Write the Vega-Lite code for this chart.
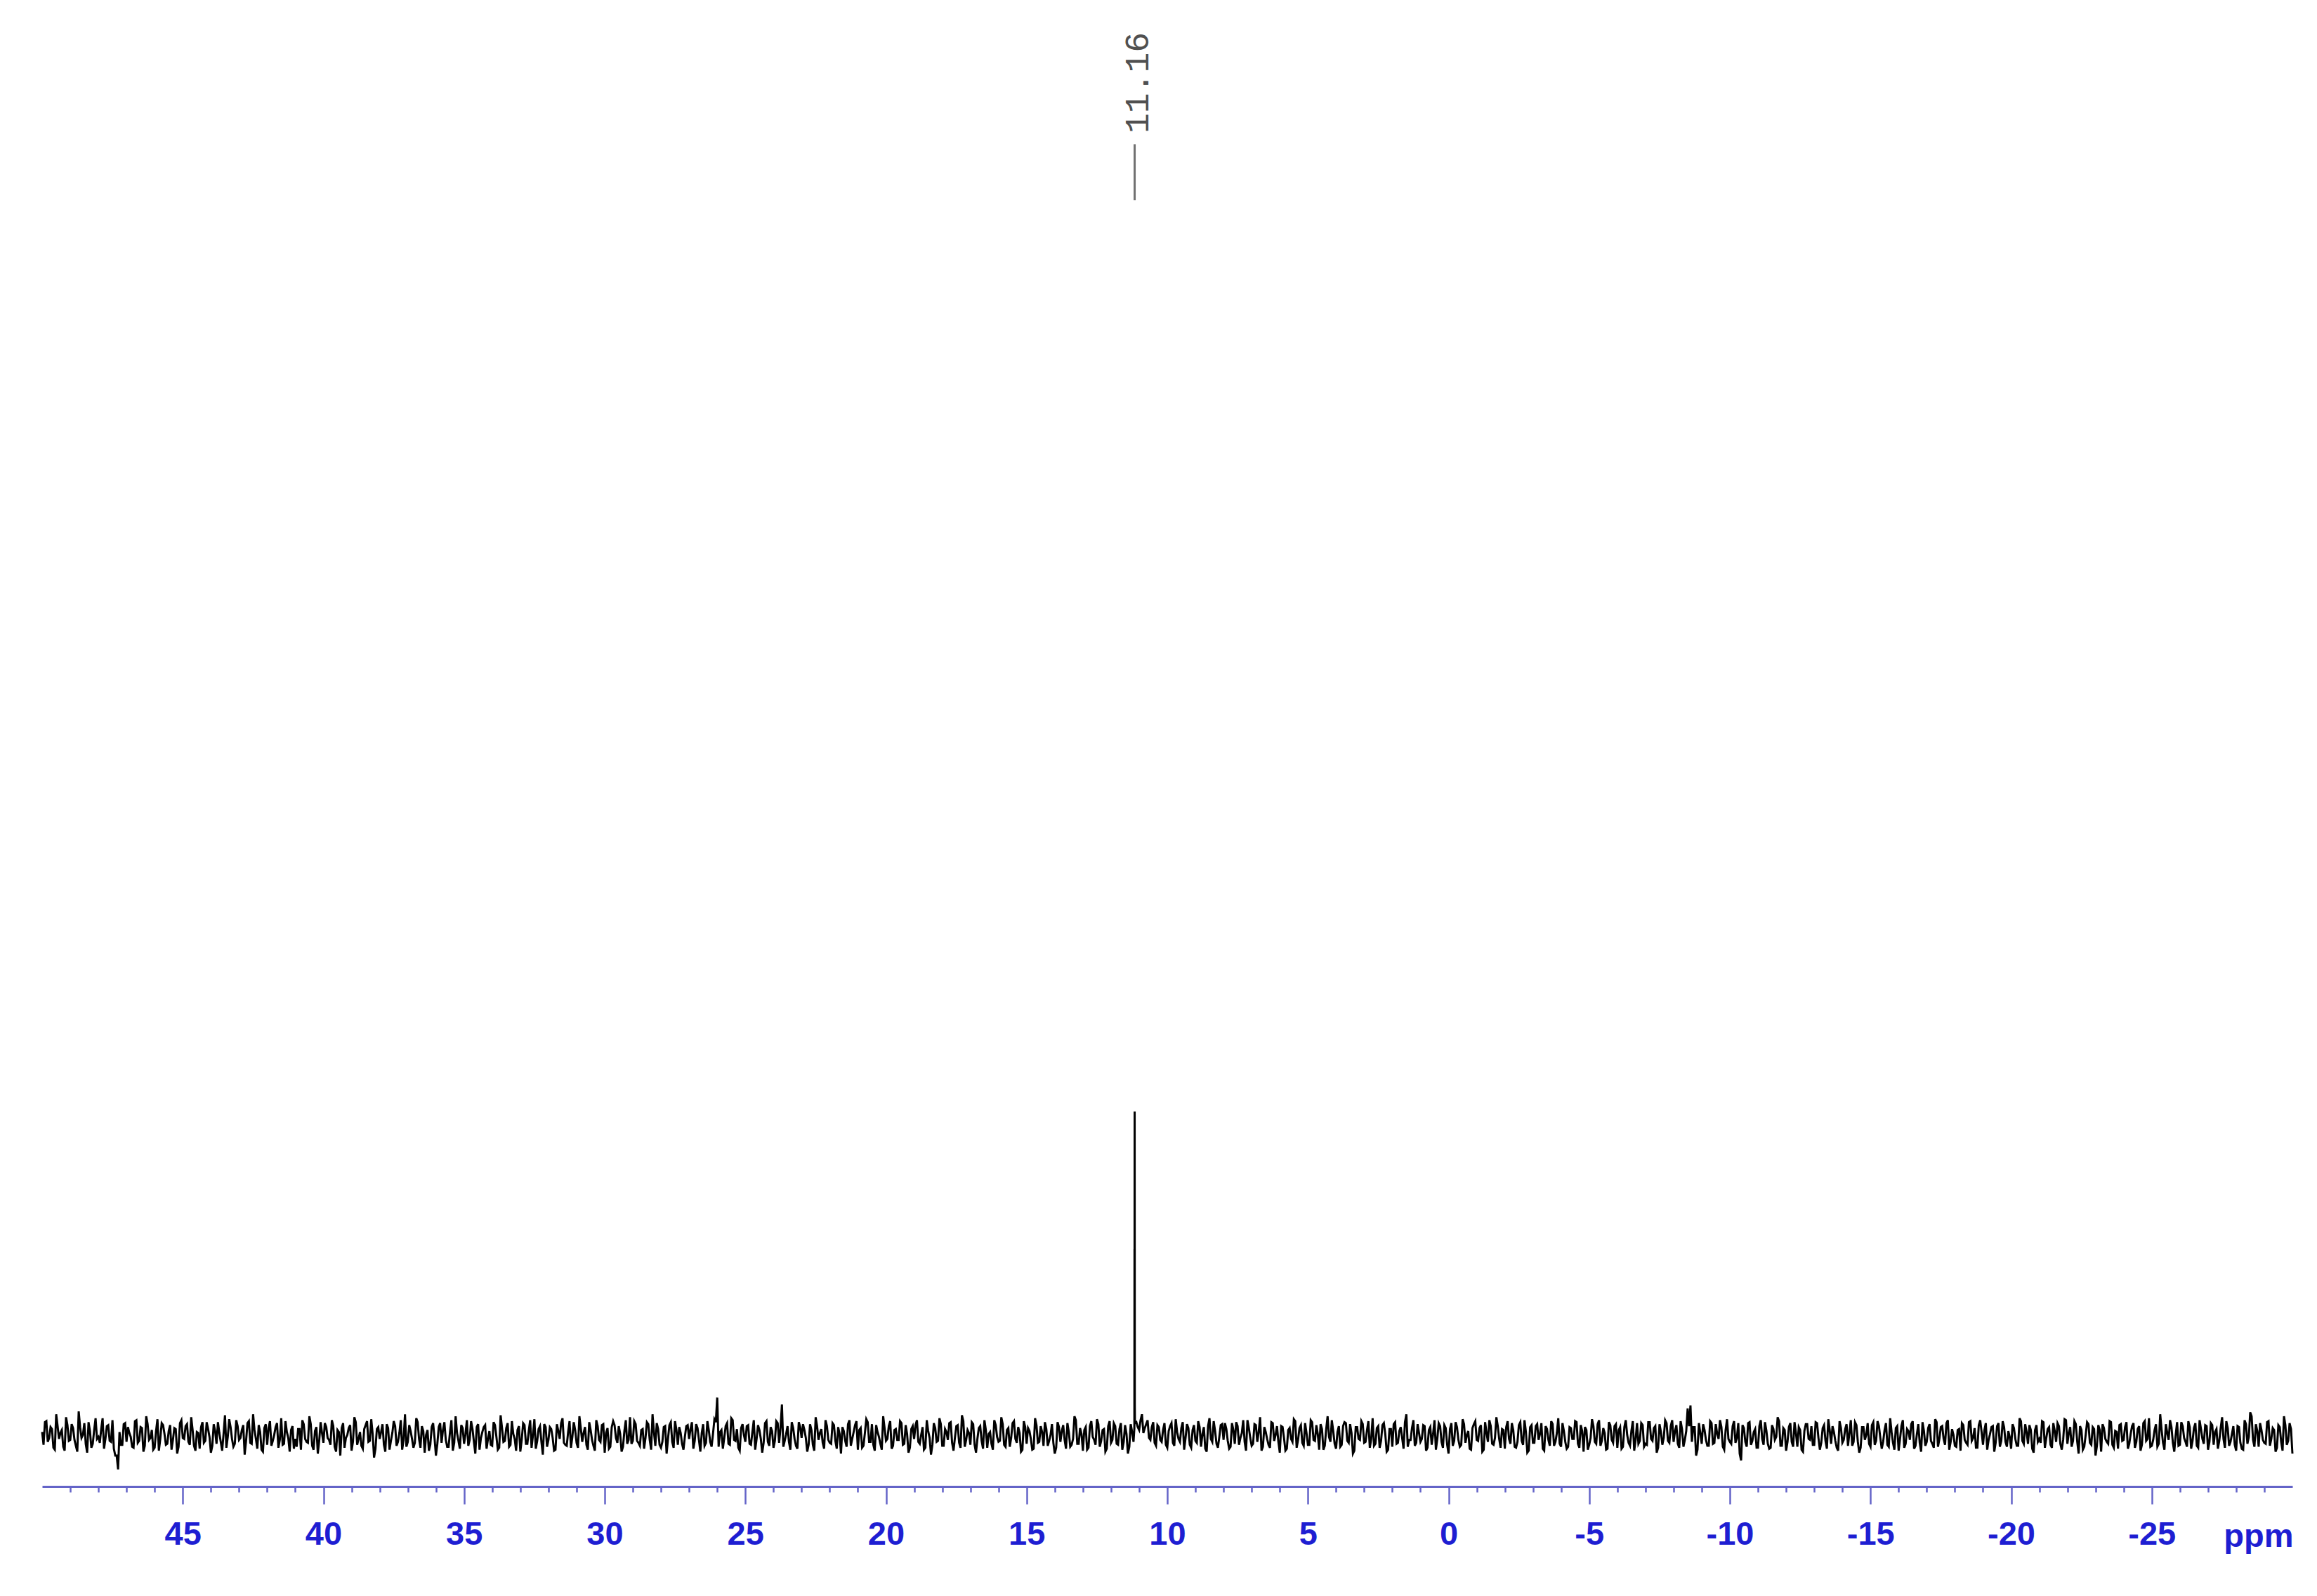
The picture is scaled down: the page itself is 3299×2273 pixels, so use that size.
{
"$schema": "https://vega.github.io/schema/vega-lite/v6.json",
"width": 3204,
"height": 2117,
"autosize": {"type": "none"},
"padding": {"left": 60, "top": 0, "right": 35, "bottom": 156},
"background": "white",
"config": {"view": {"stroke": null}},
"datasets": {
"peaks": [{"p": 11.16, "label": "11.16"}],
"spectrum": [
{"p":50,"i":4},
{"p":49.9,"i":14},{"p":49.8,"i":-6},{"p":49.7,"i":9},{"p":49.6,"i":-12},{"p":49.5,"i":22},{"p":49.4,"i":-3},{"p":49.3,"i":6},{"p":49.2,"i":-15},{"p":49.1,"i":11},{"p":49.0,"i":-4},
{"p":48.9,"i":8},{"p":48.8,"i":-10},{"p":48.7,"i":25},{"p":48.6,"i":-2},{"p":48.5,"i":13},{"p":48.4,"i":-17},{"p":48.3,"i":5},{"p":48.2,"i":-8},{"p":48.1,"i":18},{"p":48.0,"i":-1},
{"p":47.9,"i":7},{"p":47.8,"i":-13},{"p":47.7,"i":10},{"p":47.6,"i":-5},{"p":47.5,"i":16},{"p":47.4,"i":-20},{"p":47.3,"i":-34},{"p":47.2,"i":-9},{"p":47.1,"i":12},{"p":47.0,"i":-6},
{"p":46.9,"i":3},{"p":46.8,"i":-11},{"p":46.7,"i":15},{"p":46.6,"i":-7},{"p":46.5,"i":9},{"p":46.4,"i":-16},{"p":46.3,"i":20},{"p":46.2,"i":-4},{"p":46.1,"i":6},{"p":46.0,"i":-12},
{"p":45.9,"i":17},{"p":45.8,"i":-3},{"p":45.7,"i":11},{"p":45.6,"i":-9},{"p":45.5,"i":5},{"p":45.4,"i":-14},{"p":45.3,"i":8},{"p":45.2,"i":-18},{"p":45.1,"i":13},{"p":45.0,"i":-2},
{"p":44.9,"i":10},{"p":44.8,"i":-6},{"p":44.7,"i":19},{"p":44.6,"i":-10},{"p":44.5,"i":4},{"p":44.4,"i":-13},{"p":44.3,"i":14},{"p":44.2,"i":-5},{"p":44.1,"i":7},{"p":44.0,"i":-17},
{"p":43.9,"i":12},{"p":43.8,"i":-8},{"p":43.7,"i":3},{"p":43.6,"i":-15},{"p":43.5,"i":21},{"p":43.4,"i":-1},{"p":43.3,"i":9},{"p":43.2,"i":-11},{"p":43.1,"i":16},{"p":43.0,"i":-4},
{"p":42.9,"i":6},{"p":42.8,"i":-19},{"p":42.7,"i":13},{"p":42.6,"i":-7},{"p":42.5,"i":22},{"p":42.4,"i":-3},{"p":42.3,"i":11},{"p":42.2,"i":-14},{"p":42.1,"i":8},{"p":42.0,"i":-9},
{"p":41.9,"i":15},{"p":41.8,"i":-5},{"p":41.7,"i":9},{"p":41.6,"i":-12},{"p":41.5,"i":18},{"p":41.4,"i":-8},{"p":41.3,"i":4},{"p":41.2,"i":-16},{"p":41.1,"i":10},{"p":41.0,"i":-3},
{"p":40.9,"i":7},{"p":40.8,"i":-14},{"p":40.7,"i":12},{"p":40.6,"i":-6},{"p":40.5,"i":20},{"p":40.4,"i":-10},{"p":40.3,"i":5},{"p":40.2,"i":-18},{"p":40.1,"i":14},{"p":40.0,"i":-7},
{"p":39.9,"i":9},{"p":39.8,"i":-4},{"p":39.7,"i":16},{"p":39.6,"i":-11},{"p":39.5,"i":6},{"p":39.4,"i":-20},{"p":39.3,"i":13},{"p":39.2,"i":-2},{"p":39.1,"i":8},{"p":39.0,"i":-15},
{"p":38.9,"i":19},{"p":38.8,"i":-9},{"p":38.7,"i":4},{"p":38.6,"i":-13},{"p":38.5,"i":11},{"p":38.4,"i":-6},{"p":38.3,"i":17},{"p":38.2,"i":-22},{"p":38.1,"i":7},{"p":38.0,"i":-3},
{"p":37.9,"i":12},{"p":37.8,"i":-16},{"p":37.7,"i":8},{"p":37.6,"i":-5},{"p":37.5,"i":15},{"p":37.4,"i":-10},{"p":37.3,"i":3},{"p":37.2,"i":-14},{"p":37.1,"i":22},{"p":37.0,"i":-6},
{"p":36.9,"i":5},{"p":36.8,"i":-12},{"p":36.7,"i":18},{"p":36.6,"i":-3},{"p":36.5,"i":10},{"p":36.4,"i":-17},{"p":36.3,"i":6},{"p":36.2,"i":-9},{"p":36.1,"i":13},{"p":36.0,"i":-20},
{"p":35.9,"i":9},{"p":35.8,"i":-7},{"p":35.7,"i":14},{"p":35.6,"i":-11},{"p":35.5,"i":4},{"p":35.4,"i":-15},{"p":35.3,"i":20},{"p":35.2,"i":-5},{"p":35.1,"i":11},{"p":35.0,"i":-8},
{"p":34.9,"i":16},{"p":34.8,"i":-4},{"p":34.7,"i":7},{"p":34.6,"i":-18},{"p":34.5,"i":12},{"p":34.4,"i":-2},{"p":34.3,"i":9},{"p":34.2,"i":-13},{"p":34.1,"i":5},{"p":34.0,"i":-10},
{"p":33.9,"i":11},{"p":33.8,"i":-14},{"p":33.7,"i":21},{"p":33.6,"i":-6},{"p":33.5,"i":8},{"p":33.4,"i":-11},{"p":33.3,"i":15},{"p":33.2,"i":-3},{"p":33.1,"i":6},{"p":33.0,"i":-16},
{"p":32.9,"i":13},{"p":32.8,"i":-8},{"p":32.7,"i":5},{"p":32.6,"i":-12},{"p":32.5,"i":17},{"p":32.4,"i":-5},{"p":32.3,"i":10},{"p":32.2,"i":-19},{"p":32.1,"i":9},{"p":32.0,"i":-4},
{"p":31.9,"i":7},{"p":31.8,"i":-15},{"p":31.7,"i":12},{"p":31.6,"i":-3},{"p":31.5,"i":18},{"p":31.4,"i":-9},{"p":31.3,"i":4},{"p":31.2,"i":-12},{"p":31.1,"i":14},{"p":31.0,"i":-7},
{"p":30.9,"i":20},{"p":30.8,"i":-6},{"p":30.7,"i":9},{"p":30.6,"i":-14},{"p":30.5,"i":6},{"p":30.4,"i":-10},{"p":30.3,"i":16},{"p":30.2,"i":-4},{"p":30.1,"i":11},{"p":30.0,"i":-17},
{"p":29.9,"i":8},{"p":29.8,"i":-11},{"p":29.7,"i":15},{"p":29.6,"i":-2},{"p":29.5,"i":10},{"p":29.4,"i":-16},{"p":29.3,"i":5},{"p":29.2,"i":-8},{"p":29.1,"i":19},{"p":29.0,"i":-5},
{"p":28.9,"i":12},{"p":28.8,"i":-7},{"p":28.7,"i":6},{"p":28.6,"i":-13},{"p":28.5,"i":14},{"p":28.4,"i":-4},{"p":28.3,"i":22},{"p":28.2,"i":-10},{"p":28.1,"i":7},{"p":28.0,"i":-12},
{"p":27.9,"i":9},{"p":27.8,"i":-18},{"p":27.7,"i":11},{"p":27.6,"i":-6},{"p":27.5,"i":15},{"p":27.4,"i":-9},{"p":27.3,"i":3},{"p":27.2,"i":-14},{"p":27.1,"i":10},{"p":27.0,"i":-3},
{"p":26.9,"i":14},{"p":26.8,"i":-5},{"p":26.7,"i":8},{"p":26.6,"i":-16},{"p":26.5,"i":12},{"p":26.4,"i":-7},{"p":26.3,"i":6},{"p":26.2,"i":-11},{"p":26.1,"i":17},{"p":26.0,"i":39},
{"p":25.9,"i":4},{"p":25.8,"i":-13},{"p":25.7,"i":10},{"p":25.6,"i":-8},{"p":25.5,"i":18},{"p":25.4,"i":-4},{"p":25.3,"i":7},{"p":25.2,"i":-15},{"p":25.1,"i":12},{"p":25.0,"i":-6},
{"p":24.9,"i":11},{"p":24.8,"i":-9},{"p":24.7,"i":16},{"p":24.6,"i":-3},{"p":24.5,"i":6},{"p":24.4,"i":-17},{"p":24.3,"i":13},{"p":24.2,"i":-6},{"p":24.1,"i":9},{"p":24.0,"i":-12},
{"p":23.9,"i":15},{"p":23.8,"i":-7},{"p":23.7,"i":32},{"p":23.6,"i":-5},{"p":23.5,"i":10},{"p":23.4,"i":-14},{"p":23.3,"i":8},{"p":23.2,"i":-10},{"p":23.1,"i":14},{"p":23.0,"i":-2},
{"p":22.9,"i":6},{"p":22.8,"i":-16},{"p":22.7,"i":12},{"p":22.6,"i":-9},{"p":22.5,"i":19},{"p":22.4,"i":-4},{"p":22.3,"i":7},{"p":22.2,"i":-13},{"p":22.1,"i":10},{"p":22.0,"i":-7},
{"p":21.9,"i":13},{"p":21.8,"i":-5},{"p":21.7,"i":9},{"p":21.6,"i":-18},{"p":21.5,"i":5},{"p":21.4,"i":-11},{"p":21.3,"i":16},{"p":21.2,"i":-3},{"p":21.1,"i":11},{"p":21.0,"i":-14},
{"p":20.9,"i":8},{"p":20.8,"i":-10},{"p":20.7,"i":17},{"p":20.6,"i":-6},{"p":20.5,"i":12},{"p":20.4,"i":-15},{"p":20.3,"i":4},{"p":20.2,"i":-8},{"p":20.1,"i":20},{"p":20.0,"i":-5},
{"p":19.9,"i":10},{"p":19.8,"i":-13},{"p":19.7,"i":6},{"p":19.6,"i":-4},{"p":19.5,"i":15},{"p":19.4,"i":-9},{"p":19.3,"i":11},{"p":19.2,"i":-17},{"p":19.1,"i":7},{"p":19.0,"i":-3},
{"p":18.9,"i":16},{"p":18.8,"i":-8},{"p":18.7,"i":9},{"p":18.6,"i":-12},{"p":18.5,"i":5},{"p":18.4,"i":-19},{"p":18.3,"i":13},{"p":18.2,"i":-6},{"p":18.1,"i":18},{"p":18.0,"i":-10},
{"p":17.9,"i":7},{"p":17.8,"i":-4},{"p":17.7,"i":14},{"p":17.6,"i":-15},{"p":17.5,"i":10},{"p":17.4,"i":-7},{"p":17.3,"i":21},{"p":17.2,"i":-11},{"p":17.1,"i":6},{"p":17.0,"i":-9},
{"p":16.9,"i":12},{"p":16.8,"i":-17},{"p":16.7,"i":8},{"p":16.6,"i":-5},{"p":16.5,"i":16},{"p":16.4,"i":-12},{"p":16.3,"i":4},{"p":16.2,"i":-14},{"p":16.1,"i":11},{"p":16.0,"i":-6},
{"p":15.9,"i":19},{"p":15.8,"i":-9},{"p":15.7,"i":6},{"p":15.6,"i":-11},{"p":15.5,"i":13},{"p":15.4,"i":-3},{"p":15.3,"i":9},{"p":15.2,"i":-16},{"p":15.1,"i":15},{"p":15.0,"i":-8},
{"p":14.9,"i":5},{"p":14.8,"i":-14},{"p":14.7,"i":18},{"p":14.6,"i":-7},{"p":14.5,"i":10},{"p":14.4,"i":-10},{"p":14.3,"i":7},{"p":14.2,"i":-5},{"p":14.1,"i":12},{"p":14.0,"i":-18},
{"p":13.9,"i":14},{"p":13.8,"i":-6},{"p":13.7,"i":11},{"p":13.6,"i":-13},{"p":13.5,"i":4},{"p":13.4,"i":-9},{"p":13.3,"i":20},{"p":13.2,"i":-8},{"p":13.1,"i":8},{"p":13.0,"i":-15},
{"p":12.9,"i":9},{"p":12.8,"i":-12},{"p":12.7,"i":15},{"p":12.6,"i":-4},{"p":12.5,"i":17},{"p":12.4,"i":-11},{"p":12.3,"i":6},{"p":12.2,"i":-16},{"p":12.1,"i":10},{"p":12.0,"i":-7},
{"p":11.9,"i":13},{"p":11.8,"i":-8},{"p":11.7,"i":7},{"p":11.6,"i":-14},{"p":11.5,"i":11},{"p":11.4,"i":-18},{"p":11.3,"i":12},{"p":11.2,"i":-6},
{"p":11.17,"i":8},{"p":11.165,"i":190},{"p":11.163,"i":165},{"p":11.16,"i":330},{"p":11.157,"i":187},{"p":11.155,"i":32},{"p":11.15,"i":13},
{"p":11.1,"i":14},{"p":11.0,"i":6},
{"p":10.9,"i":22},{"p":10.8,"i":8},{"p":10.7,"i":16},{"p":10.6,"i":-4},{"p":10.5,"i":14},{"p":10.4,"i":-10},{"p":10.3,"i":9},{"p":10.2,"i":-6},{"p":10.1,"i":13},{"p":10.0,"i":-12},
{"p":9.9,"i":10},{"p":9.8,"i":-7},{"p":9.7,"i":17},{"p":9.6,"i":-3},{"p":9.5,"i":8},{"p":9.4,"i":-14},{"p":9.3,"i":12},{"p":9.2,"i":-9},{"p":9.1,"i":6},{"p":9.0,"i":-5},
{"p":8.9,"i":15},{"p":8.8,"i":-11},{"p":8.7,"i":9},{"p":8.6,"i":-16},{"p":8.5,"i":18},{"p":8.4,"i":-6},{"p":8.3,"i":5},{"p":8.2,"i":-12},{"p":8.1,"i":11},{"p":8.0,"i":-4},
{"p":7.9,"i":7},{"p":7.8,"i":-13},{"p":7.7,"i":13},{"p":7.6,"i":-8},{"p":7.5,"i":10},{"p":7.4,"i":-2},{"p":7.3,"i":16},{"p":7.2,"i":-15},{"p":7.1,"i":8},{"p":7.0,"i":-10},
{"p":6.9,"i":12},{"p":6.8,"i":-6},{"p":6.7,"i":19},{"p":6.6,"i":-11},{"p":6.5,"i":4},{"p":6.4,"i":-9},{"p":6.3,"i":14},{"p":6.2,"i":-5},{"p":6.1,"i":10},{"p":6.0,"i":-17},
{"p":5.9,"i":9},{"p":5.8,"i":-15},{"p":5.7,"i":6},{"p":5.6,"i":-3},{"p":5.5,"i":17},{"p":5.4,"i":-12},{"p":5.3,"i":8},{"p":5.2,"i":-7},{"p":5.1,"i":13},{"p":5.0,"i":-9},
{"p":4.9,"i":16},{"p":4.8,"i":-4},{"p":4.7,"i":11},{"p":4.6,"i":-14},{"p":4.5,"i":7},{"p":4.4,"i":-10},{"p":4.3,"i":20},{"p":4.2,"i":-6},{"p":4.1,"i":5},{"p":4.0,"i":-13},
{"p":3.9,"i":10},{"p":3.8,"i":-9},{"p":3.7,"i":14},{"p":3.6,"i":-5},{"p":3.5,"i":12},{"p":3.4,"i":-18},{"p":3.3,"i":9},{"p":3.2,"i":-3},{"p":3.1,"i":15},{"p":3.0,"i":-7},
{"p":2.9,"i":6},{"p":2.8,"i":-12},{"p":2.7,"i":18},{"p":2.6,"i":-8},{"p":2.5,"i":10},{"p":2.4,"i":-5},{"p":2.3,"i":13},{"p":2.2,"i":-16},{"p":2.1,"i":7},{"p":2.0,"i":-11},
{"p":1.9,"i":14},{"p":1.8,"i":-7},{"p":1.7,"i":9},{"p":1.6,"i":-13},{"p":1.5,"i":22},{"p":1.4,"i":-4},{"p":1.3,"i":8},{"p":1.2,"i":-10},{"p":1.1,"i":12},{"p":1.0,"i":-6},
{"p":0.9,"i":11},{"p":0.8,"i":-15},{"p":0.7,"i":6},{"p":0.6,"i":-9},{"p":0.5,"i":16},{"p":0.4,"i":-3},{"p":0.3,"i":10},{"p":0.2,"i":-12},{"p":0.1,"i":8},{"p":0.0,"i":-18},
{"p":-0.1,"i":13},{"p":-0.2,"i":-5},{"p":-0.3,"i":9},{"p":-0.4,"i":-11},{"p":-0.5,"i":17},{"p":-0.6,"i":-7},{"p":-0.7,"i":5},{"p":-0.8,"i":-14},{"p":-0.9,"i":12},{"p":-1.0,"i":-4},
{"p":-1.1,"i":8},{"p":-1.2,"i":-16},{"p":-1.3,"i":14},{"p":-1.4,"i":-6},{"p":-1.5,"i":10},{"p":-1.6,"i":-9},{"p":-1.7,"i":19},{"p":-1.8,"i":-3},{"p":-1.9,"i":7},{"p":-2.0,"i":-13},
{"p":-2.1,"i":15},{"p":-2.2,"i":-8},{"p":-2.3,"i":6},{"p":-2.4,"i":-12},{"p":-2.5,"i":11},{"p":-2.6,"i":-5},{"p":-2.7,"i":16},{"p":-2.8,"i":-17},{"p":-2.9,"i":9},{"p":-3.0,"i":-7},
{"p":-3.1,"i":10},{"p":-3.2,"i":-4},{"p":-3.3,"i":13},{"p":-3.4,"i":-15},{"p":-3.5,"i":7},{"p":-3.6,"i":-10},{"p":-3.7,"i":12},{"p":-3.8,"i":-6},{"p":-3.9,"i":18},{"p":-4.0,"i":-11},
{"p":-4.1,"i":5},{"p":-4.2,"i":-13},{"p":-4.3,"i":9},{"p":-4.4,"i":-3},{"p":-4.5,"i":15},{"p":-4.6,"i":-8},{"p":-4.7,"i":11},{"p":-4.8,"i":-16},{"p":-4.9,"i":6},{"p":-5.0,"i":-9},
{"p":-5.1,"i":17},{"p":-5.2,"i":-6},{"p":-5.3,"i":12},{"p":-5.4,"i":-10},{"p":-5.5,"i":8},{"p":-5.6,"i":-14},{"p":-5.7,"i":14},{"p":-5.8,"i":-4},{"p":-5.9,"i":10},{"p":-6.0,"i":-12},
{"p":-6.1,"i":9},{"p":-6.2,"i":-11},{"p":-6.3,"i":16},{"p":-6.4,"i":-7},{"p":-6.5,"i":5},{"p":-6.6,"i":-15},{"p":-6.7,"i":13},{"p":-6.8,"i":-5},{"p":-6.9,"i":11},{"p":-7.0,"i":-8},
{"p":-7.1,"i":14},{"p":-7.2,"i":-3},{"p":-7.3,"i":8},{"p":-7.4,"i":-17},{"p":-7.5,"i":12},{"p":-7.6,"i":-9},{"p":-7.7,"i":16},{"p":-7.8,"i":-5},{"p":-7.9,"i":10},{"p":-8.0,"i":-6},
{"p":-8.1,"i":11},{"p":-8.2,"i":-12},{"p":-8.3,"i":7},{"p":-8.4,"i":-4},{"p":-8.5,"i":28},{"p":-8.6,"i":31},{"p":-8.7,"i":9},{"p":-8.8,"i":-20},{"p":-8.9,"i":13},{"p":-9.0,"i":-8},
{"p":-9.1,"i":6},{"p":-9.2,"i":-10},{"p":-9.3,"i":15},{"p":-9.4,"i":-8},{"p":-9.5,"i":12},{"p":-9.6,"i":-3},{"p":-9.7,"i":9},{"p":-9.8,"i":-14},{"p":-9.9,"i":17},{"p":-10.0,"i":-6},
{"p":-10.1,"i":10},{"p":-10.2,"i":-7},{"p":-10.3,"i":13},{"p":-10.4,"i":-25},{"p":-10.5,"i":8},{"p":-10.6,"i":-11},{"p":-10.7,"i":14},{"p":-10.8,"i":-5},{"p":-10.9,"i":7},{"p":-11.0,"i":-12},
{"p":-11.1,"i":16},{"p":-11.2,"i":-9},{"p":-11.3,"i":5},{"p":-11.4,"i":-13},{"p":-11.5,"i":11},{"p":-11.6,"i":-4},{"p":-11.7,"i":19},{"p":-11.8,"i":-10},{"p":-11.9,"i":8},{"p":-12.0,"i":-15},
{"p":-12.1,"i":9},{"p":-12.2,"i":-6},{"p":-12.3,"i":14},{"p":-12.4,"i":-11},{"p":-12.5,"i":6},{"p":-12.6,"i":-16},{"p":-12.7,"i":12},{"p":-12.8,"i":-3},{"p":-12.9,"i":10},{"p":-13.0,"i":-9},
{"p":-13.1,"i":13},{"p":-13.2,"i":-14},{"p":-13.3,"i":8},{"p":-13.4,"i":-5},{"p":-13.5,"i":17},{"p":-13.6,"i":-8},{"p":-13.7,"i":4},{"p":-13.8,"i":-12},{"p":-13.9,"i":15},{"p":-14.0,"i":-7},
{"p":-14.1,"i":7},{"p":-14.2,"i":-10},{"p":-14.3,"i":16},{"p":-14.4,"i":-6},{"p":-14.5,"i":11},{"p":-14.6,"i":-17},{"p":-14.7,"i":9},{"p":-14.8,"i":-4},{"p":-14.9,"i":13},{"p":-15.0,"i":-11},
{"p":-15.1,"i":14},{"p":-15.2,"i":-5},{"p":-15.3,"i":10},{"p":-15.4,"i":-13},{"p":-15.5,"i":6},{"p":-15.6,"i":-9},{"p":-15.7,"i":18},{"p":-15.8,"i":-7},{"p":-15.9,"i":8},{"p":-16.0,"i":-15},
{"p":-16.1,"i":10},{"p":-16.2,"i":-12},{"p":-16.3,"i":7},{"p":-16.4,"i":-4},{"p":-16.5,"i":15},{"p":-16.6,"i":-10},{"p":-16.7,"i":12},{"p":-16.8,"i":-16},{"p":-16.9,"i":5},{"p":-17.0,"i":-6},
{"p":-17.1,"i":12},{"p":-17.2,"i":-8},{"p":-17.3,"i":17},{"p":-17.4,"i":-11},{"p":-17.5,"i":9},{"p":-17.6,"i":-3},{"p":-17.7,"i":13},{"p":-17.8,"i":-14},{"p":-17.9,"i":7},{"p":-18.0,"i":-10},
{"p":-18.1,"i":6},{"p":-18.2,"i":-15},{"p":-18.3,"i":11},{"p":-18.4,"i":-7},{"p":-18.5,"i":14},{"p":-18.6,"i":-5},{"p":-18.7,"i":8},{"p":-18.8,"i":-12},{"p":-18.9,"i":16},{"p":-19.0,"i":-9},
{"p":-19.1,"i":13},{"p":-19.2,"i":-4},{"p":-19.3,"i":9},{"p":-19.4,"i":-16},{"p":-19.5,"i":10},{"p":-19.6,"i":-11},{"p":-19.7,"i":15},{"p":-19.8,"i":-6},{"p":-19.9,"i":5},{"p":-20.0,"i":-13},
{"p":-20.1,"i":8},{"p":-20.2,"i":-10},{"p":-20.3,"i":18},{"p":-20.4,"i":-5},{"p":-20.5,"i":12},{"p":-20.6,"i":-8},{"p":-20.7,"i":6},{"p":-20.8,"i":-17},{"p":-20.9,"i":11},{"p":-21.0,"i":-3},
{"p":-21.1,"i":15},{"p":-21.2,"i":-12},{"p":-21.3,"i":7},{"p":-21.4,"i":-9},{"p":-21.5,"i":13},{"p":-21.6,"i":-6},{"p":-21.7,"i":10},{"p":-21.8,"i":-14},{"p":-21.9,"i":17},{"p":-22.0,"i":-8},
{"p":-22.1,"i":9},{"p":-22.2,"i":-5},{"p":-22.3,"i":12},{"p":-22.4,"i":-18},{"p":-22.5,"i":6},{"p":-22.6,"i":-11},{"p":-22.7,"i":14},{"p":-22.8,"i":-7},{"p":-22.9,"i":9},{"p":-23.0,"i":-20},
{"p":-23.1,"i":11},{"p":-23.2,"i":-16},{"p":-23.3,"i":8},{"p":-23.4,"i":-6},{"p":-23.5,"i":15},{"p":-23.6,"i":-9},{"p":-23.7,"i":5},{"p":-23.8,"i":-13},{"p":-23.9,"i":12},{"p":-24.0,"i":-4},
{"p":-24.1,"i":14},{"p":-24.2,"i":-8},{"p":-24.3,"i":10},{"p":-24.4,"i":-12},{"p":-24.5,"i":7},{"p":-24.6,"i":-15},{"p":-24.7,"i":13},{"p":-24.8,"i":-5},{"p":-24.9,"i":18},{"p":-25.0,"i":-10},
{"p":-25.1,"i":6},{"p":-25.2,"i":-11},{"p":-25.3,"i":22},{"p":-25.4,"i":-7},{"p":-25.5,"i":12},{"p":-25.6,"i":-4},{"p":-25.7,"i":9},{"p":-25.8,"i":-16},{"p":-25.9,"i":14},{"p":-26.0,"i":-9},
{"p":-26.1,"i":10},{"p":-26.2,"i":-6},{"p":-26.3,"i":15},{"p":-26.4,"i":-13},{"p":-26.5,"i":8},{"p":-26.6,"i":-10},{"p":-26.7,"i":16},{"p":-26.8,"i":-3},{"p":-26.9,"i":11},{"p":-27.0,"i":-14},
{"p":-27.1,"i":13},{"p":-27.2,"i":-9},{"p":-27.3,"i":7},{"p":-27.4,"i":-5},{"p":-27.5,"i":19},{"p":-27.6,"i":-12},{"p":-27.7,"i":8},{"p":-27.8,"i":-6},{"p":-27.9,"i":10},{"p":-28.0,"i":-15},
{"p":-28.1,"i":9},{"p":-28.2,"i":-13},{"p":-28.3,"i":16},{"p":-28.4,"i":-8},{"p":-28.5,"i":24},{"p":-28.6,"i":-4},{"p":-28.7,"i":12},{"p":-28.8,"i":-11},{"p":-28.9,"i":6},{"p":-29.0,"i":-7},
{"p":-29.1,"i":14},{"p":-29.2,"i":-10},{"p":-29.3,"i":8},{"p":-29.4,"i":-16},{"p":-29.5,"i":11},{"p":-29.6,"i":-6},{"p":-29.7,"i":20},{"p":-29.8,"i":-9},{"p":-29.9,"i":13},{"p":-30.0,"i":-18},
{"p":49.95,"i":-9},{"p":49.85,"i":15},{"p":49.75,"i":-2},{"p":49.65,"i":7},{"p":49.55,"i":-14},{"p":49.45,"i":10},{"p":49.35,"i":3},{"p":49.25,"i":-11},{"p":49.15,"i":19},{"p":49.05,"i":-5},
{"p":48.95,"i":12},{"p":48.85,"i":-4},{"p":48.75,"i":-16},{"p":48.65,"i":9},{"p":48.55,"i":1},{"p":48.45,"i":-8},{"p":48.35,"i":14},{"p":48.25,"i":-12},{"p":48.15,"i":6},{"p":48.05,"i":-3},
{"p":47.95,"i":-7},{"p":47.85,"i":18},{"p":47.75,"i":-3},{"p":47.65,"i":11},{"p":47.55,"i":-6},{"p":47.45,"i":-13},{"p":47.35,"i":-20},{"p":47.25,"i":4},{"p":47.15,"i":-9},{"p":47.05,"i":13},
{"p":46.95,"i":9},{"p":46.85,"i":-1},{"p":46.75,"i":-12},{"p":46.65,"i":16},{"p":46.55,"i":-5},{"p":46.45,"i":8},{"p":46.35,"i":-10},{"p":46.25,"i":12},{"p":46.15,"i":-2},{"p":46.05,"i":-14},
{"p":45.95,"i":5},{"p":45.85,"i":-15},{"p":45.75,"i":13},{"p":45.65,"i":2},{"p":45.55,"i":-8},{"p":45.45,"i":11},{"p":45.35,"i":-4},{"p":45.25,"i":7},{"p":45.15,"i":-11},{"p":45.05,"i":16},
{"p":44.95,"i":-3},{"p":44.85,"i":12},{"p":44.75,"i":-9},{"p":44.65,"i":6},{"p":44.55,"i":-15},{"p":44.45,"i":3},{"p":44.35,"i":9},{"p":44.25,"i":-7},{"p":44.15,"i":14},{"p":44.05,"i":-1},
{"p":43.95,"i":-10},{"p":43.85,"i":5},{"p":43.75,"i":14},{"p":43.65,"i":-6},{"p":43.55,"i":2},{"p":43.45,"i":-12},{"p":43.35,"i":17},{"p":43.25,"i":-3},{"p":43.15,"i":-8},{"p":43.05,"i":10},
{"p":42.95,"i":-2},{"p":42.85,"i":11},{"p":42.75,"i":-5},{"p":42.65,"i":15},{"p":42.55,"i":-8},{"p":42.45,"i":6},{"p":42.35,"i":-13},{"p":42.25,"i":4},{"p":42.15,"i":-16},{"p":42.05,"i":12},
{"p":41.95,"i":8},{"p":41.85,"i":-10},{"p":41.75,"i":1},{"p":41.65,"i":13},{"p":41.55,"i":-4},{"p":41.45,"i":-9},{"p":41.35,"i":15},{"p":41.25,"i":-2},{"p":41.15,"i":6},{"p":41.05,"i":-13},
{"p":40.95,"i":-11},{"p":40.85,"i":7},{"p":40.75,"i":16},{"p":40.65,"i":-3},{"p":40.55,"i":-7},{"p":40.45,"i":12},{"p":40.35,"i":-14},{"p":40.25,"i":9},{"p":40.15,"i":-5},{"p":40.05,"i":3},
{"p":39.95,"i":13},{"p":39.85,"i":-2},{"p":39.75,"i":-9},{"p":39.65,"i":10},{"p":39.55,"i":-16},{"p":39.45,"i":4},{"p":39.35,"i":8},{"p":39.25,"i":-12},{"p":39.15,"i":1},{"p":39.05,"i":11},
{"p":38.95,"i":-6},{"p":38.85,"i":14},{"p":38.75,"i":-3},{"p":38.65,"i":-10},{"p":38.55,"i":7},{"p":38.45,"i":15},{"p":38.35,"i":-5},{"p":38.25,"i":2},{"p":38.15,"i":-13},{"p":38.05,"i":9},
{"p":37.95,"i":4},{"p":37.85,"i":-9},{"p":37.75,"i":12},{"p":37.65,"i":-14},{"p":37.55,"i":3},{"p":37.45,"i":10},{"p":37.35,"i":-6},{"p":37.25,"i":16},{"p":37.15,"i":-4},{"p":37.05,"i":-11},
{"p":36.95,"i":11},{"p":36.85,"i":-3},{"p":36.75,"i":-7},{"p":36.65,"i":14},{"p":36.55,"i":-12},{"p":36.45,"i":5},{"p":36.35,"i":1},{"p":36.25,"i":-15},{"p":36.15,"i":9},{"p":36.05,"i":-2},
{"p":35.95,"i":-8},{"p":35.85,"i":13},{"p":35.75,"i":6},{"p":35.65,"i":-4},{"p":35.55,"i":-11},{"p":35.45,"i":16},{"p":35.35,"i":-7},{"p":35.25,"i":3},{"p":35.15,"i":-13},{"p":35.05,"i":8},
{"p":34.95,"i":2},{"p":34.85,"i":-10},{"p":34.75,"i":15},{"p":34.65,"i":-6},{"p":34.55,"i":9},{"p":34.45,"i":-14},{"p":34.35,"i":4},{"p":34.25,"i":11},{"p":34.15,"i":-3},{"p":34.05,"i":-9},
{"p":33.95,"i":14},{"p":33.85,"i":-1},{"p":33.75,"i":-12},{"p":33.65,"i":8},{"p":33.55,"i":-5},{"p":33.45,"i":13},{"p":33.35,"i":-9},{"p":33.25,"i":2},{"p":33.15,"i":-15},{"p":33.05,"i":10},
{"p":32.95,"i":-4},{"p":32.85,"i":11},{"p":32.75,"i":-8},{"p":32.65,"i":16},{"p":32.55,"i":1},{"p":32.45,"i":-13},{"p":32.35,"i":7},{"p":32.25,"i":-6},{"p":32.15,"i":12},{"p":32.05,"i":-11},
{"p":31.95,"i":9},{"p":31.85,"i":-2},{"p":31.75,"i":-14},{"p":31.65,"i":5},{"p":31.55,"i":13},{"p":31.45,"i":-7},{"p":31.35,"i":-10},{"p":31.25,"i":15},{"p":31.15,"i":-1},{"p":31.05,"i":6},
{"p":30.95,"i":-12},{"p":30.85,"i":8},{"p":30.75,"i":3},{"p":30.65,"i":-9},{"p":30.55,"i":14},{"p":30.45,"i":-4},{"p":30.35,"i":-15},{"p":30.25,"i":10},{"p":30.15,"i":-6},{"p":30.05,"i":12},
{"p":29.95,"i":3},{"p":29.85,"i":-13},{"p":29.75,"i":9},{"p":29.65,"i":11},{"p":29.55,"i":-7},{"p":29.45,"i":2},{"p":29.35,"i":-11},{"p":29.25,"i":16},{"p":29.15,"i":-4},{"p":29.05,"i":-8},
{"p":28.95,"i":15},{"p":28.85,"i":-5},{"p":28.75,"i":-10},{"p":28.65,"i":7},{"p":28.55,"i":-2},{"p":28.45,"i":12},{"p":28.35,"i":-14},{"p":28.25,"i":4},{"p":28.15,"i":13},{"p":28.05,"i":-9},
{"p":27.95,"i":-6},{"p":27.85,"i":10},{"p":27.75,"i":-3},{"p":27.65,"i":14},{"p":27.55,"i":-12},{"p":27.45,"i":6},{"p":27.35,"i":9},{"p":27.25,"i":-8},{"p":27.15,"i":-1},{"p":27.05,"i":11},
{"p":26.95,"i":7},{"p":26.85,"i":-13},{"p":26.75,"i":12},{"p":26.65,"i":-4},{"p":26.55,"i":3},{"p":26.45,"i":-10},{"p":26.35,"i":15},{"p":26.25,"i":-6},{"p":26.15,"i":2},{"p":26.05,"i":14},
{"p":25.95,"i":-11},{"p":25.85,"i":6},{"p":25.75,"i":-2},{"p":25.65,"i":13},{"p":25.55,"i":-9},{"p":25.45,"i":16},{"p":25.35,"i":-5},{"p":25.25,"i":-12},{"p":25.15,"i":8},{"p":25.05,"i":1},
{"p":24.95,"i":10},{"p":24.85,"i":-8},{"p":24.75,"i":4},{"p":24.65,"i":-14},{"p":24.55,"i":11},{"p":24.45,"i":-3},{"p":24.35,"i":-7},{"p":24.25,"i":15},{"p":24.15,"i":-10},{"p":24.05,"i":5},
{"p":23.95,"i":-5},{"p":23.85,"i":13},{"p":23.75,"i":8},{"p":23.65,"i":-11},{"p":23.55,"i":2},{"p":23.45,"i":-6},{"p":23.35,"i":14},{"p":23.25,"i":-3},{"p":23.15,"i":-13},{"p":23.05,"i":9},
{"p":22.95,"i":12},{"p":22.85,"i":-2},{"p":22.75,"i":-9},{"p":22.65,"i":6},{"p":22.55,"i":-15},{"p":22.45,"i":10},{"p":22.35,"i":3},{"p":22.25,"i":-7},{"p":22.15,"i":16},{"p":22.05,"i":-4},
{"p":21.95,"i":-8},{"p":21.85,"i":11},{"p":21.75,"i":-13},{"p":21.65,"i":2},{"p":21.55,"i":9},{"p":21.45,"i":-5},{"p":21.35,"i":12},{"p":21.25,"i":-10},{"p":21.15,"i":4},{"p":21.05,"i":15},
{"p":20.95,"i":6},{"p":20.85,"i":-12},{"p":20.75,"i":3},{"p":20.65,"i":14},{"p":20.55,"i":-6},{"p":20.45,"i":-9},{"p":20.35,"i":11},{"p":20.25,"i":-1},{"p":20.15,"i":-14},{"p":20.05,"i":8},
{"p":19.95,"i":-3},{"p":19.85,"i":15},{"p":19.75,"i":-10},{"p":19.65,"i":7},{"p":19.55,"i":-4},{"p":19.45,"i":13},{"p":19.35,"i":-8},{"p":19.25,"i":2},{"p":19.15,"i":-12},{"p":19.05,"i":10},
{"p":18.95,"i":11},{"p":18.85,"i":-6},{"p":18.75,"i":1},{"p":18.65,"i":-14},{"p":18.55,"i":16},{"p":18.45,"i":-2},{"p":18.35,"i":-9},{"p":18.25,"i":8},{"p":18.15,"i":-5},{"p":18.05,"i":12},
{"p":17.95,"i":-10},{"p":17.85,"i":4},{"p":17.75,"i":13},{"p":17.65,"i":-7},{"p":17.55,"i":-2},{"p":17.45,"i":11},{"p":17.35,"i":-12},{"p":17.25,"i":15},{"p":17.15,"i":-4},{"p":17.05,"i":3},
{"p":16.95,"i":14},{"p":16.85,"i":-9},{"p":16.75,"i":-3},{"p":16.65,"i":10},{"p":16.55,"i":-13},{"p":16.45,"i":6},{"p":16.35,"i":2},{"p":16.25,"i":-8},{"p":16.15,"i":16},{"p":16.05,"i":-1},
{"p":15.95,"i":-5},{"p":15.85,"i":12},{"p":15.75,"i":-11},{"p":15.65,"i":8},{"p":15.55,"i":-2},{"p":15.45,"i":15},{"p":15.35,"i":-7},{"p":15.25,"i":3},{"p":15.15,"i":-14},{"p":15.05,"i":9},
{"p":14.95,"i":8},{"p":14.85,"i":-3},{"p":14.75,"i":-13},{"p":14.65,"i":11},{"p":14.55,"i":-6},{"p":14.45,"i":4},{"p":14.35,"i":14},{"p":14.25,"i":-10},{"p":14.15,"i":1},{"p":14.05,"i":-7},
{"p":13.95,"i":-12},{"p":13.85,"i":9},{"p":13.75,"i":5},{"p":13.65,"i":-4},{"p":13.55,"i":13},{"p":13.45,"i":-11},{"p":13.35,"i":-3},{"p":13.25,"i":16},{"p":13.15,"i":-8},{"p":13.05,"i":2},
{"p":12.95,"i":6},{"p":12.85,"i":-14},{"p":12.75,"i":10},{"p":12.65,"i":-1},{"p":12.55,"i":-9},{"p":12.45,"i":12},{"p":12.35,"i":-5},{"p":12.25,"i":7},{"p":12.15,"i":-13},{"p":12.05,"i":15},
{"p":11.95,"i":-4},{"p":11.85,"i":10},{"p":11.75,"i":-9},{"p":11.65,"i":13},{"p":11.55,"i":-6},{"p":11.45,"i":2},{"p":11.35,"i":-11},{"p":11.25,"i":4},{"p":11.05,"i":9},
{"p":10.95,"i":16},{"p":10.85,"i":3},{"p":10.75,"i":12},{"p":10.65,"i":-2},{"p":10.55,"i":9},{"p":10.45,"i":-7},{"p":10.35,"i":11},{"p":10.25,"i":-4},{"p":10.15,"i":6},{"p":10.05,"i":-9},
{"p":9.95,"i":5},{"p":9.85,"i":13},{"p":9.75,"i":-10},{"p":9.65,"i":4},{"p":9.55,"i":-6},{"p":9.45,"i":14},{"p":9.35,"i":-2},{"p":9.25,"i":8},{"p":9.15,"i":-12},{"p":9.05,"i":11},
{"p":8.95,"i":-7},{"p":8.85,"i":9},{"p":8.75,"i":2},{"p":8.65,"i":-13},{"p":8.55,"i":10},{"p":8.45,"i":-3},{"p":8.35,"i":15},{"p":8.25,"i":-8},{"p":8.15,"i":-1},{"p":8.05,"i":12},
{"p":7.95,"i":13},{"p":7.85,"i":-5},{"p":7.75,"i":-11},{"p":7.65,"i":6},{"p":7.55,"i":14},{"p":7.45,"i":-9},{"p":7.35,"i":3},{"p":7.25,"i":-6},{"p":7.15,"i":16},{"p":7.05,"i":-2},
{"p":6.95,"i":-8},{"p":6.85,"i":11},{"p":6.75,"i":4},{"p":6.65,"i":-15},{"p":6.55,"i":9},{"p":6.45,"i":-3},{"p":6.35,"i":-12},{"p":6.25,"i":13},{"p":6.15,"i":1},{"p":6.05,"i":-6},
{"p":5.95,"i":10},{"p":5.85,"i":-2},{"p":5.75,"i":-13},{"p":5.65,"i":8},{"p":5.55,"i":-6},{"p":5.45,"i":15},{"p":5.35,"i":-4},{"p":5.25,"i":11},{"p":5.15,"i":-10},{"p":5.05,"i":3},
{"p":4.95,"i":-9},{"p":4.85,"i":14},{"p":4.75,"i":-5},{"p":4.65,"i":2},{"p":4.55,"i":12},{"p":4.45,"i":-14},{"p":4.35,"i":7},{"p":4.25,"i":-1},{"p":4.15,"i":16},{"p":4.05,"i":-8},
{"p":3.95,"i":4},{"p":3.85,"i":-11},{"p":3.75,"i":10},{"p":3.65,"i":13},{"p":3.55,"i":-7},{"p":3.45,"i":3},{"p":3.35,"i":-15},{"p":3.25,"i":9},{"p":3.15,"i":-4},{"p":3.05,"i":12},
{"p":2.95,"i":-6},{"p":2.85,"i":15},{"p":2.75,"i":-3},{"p":2.65,"i":-10},{"p":2.55,"i":8},{"p":2.45,"i":-12},{"p":2.35,"i":11},{"p":2.25,"i":2},{"p":2.15,"i":-14},{"p":2.05,"i":7},
{"p":1.95,"i":12},{"p":1.85,"i":-8},{"p":1.75,"i":5},{"p":1.65,"i":-2},{"p":1.55,"i":14},{"p":1.45,"i":-11},{"p":1.35,"i":-4},{"p":1.25,"i":16},{"p":1.15,"i":-7},{"p":1.05,"i":3},
{"p":0.95,"i":-3},{"p":0.85,"i":10},{"p":0.75,"i":-12},{"p":0.65,"i":9},{"p":0.55,"i":2},{"p":0.45,"i":-14},{"p":0.35,"i":13},{"p":0.25,"i":-6},{"p":0.15,"i":11},{"p":0.05,"i":-9},
{"p":-0.05,"i":7},{"p":-0.15,"i":-10},{"p":-0.25,"i":14},{"p":-0.35,"i":-4},{"p":-0.45,"i":-9},{"p":-0.55,"i":12},{"p":-0.65,"i":1},{"p":-0.75,"i":-13},{"p":-0.85,"i":8},{"p":-0.95,"i":15},
{"p":-1.05,"i":-5},{"p":-1.15,"i":11},{"p":-1.25,"i":-14},{"p":-1.35,"i":3},{"p":-1.45,"i":16},{"p":-1.55,"i":-8},{"p":-1.65,"i":-2},{"p":-1.75,"i":10},{"p":-1.85,"i":-12},{"p":-1.95,"i":6},
{"p":-2.05,"i":9},{"p":-2.15,"i":-3},{"p":-2.25,"i":13},{"p":-2.35,"i":-11},{"p":-2.45,"i":-6},{"p":-2.55,"i":14},{"p":-2.65,"i":-9},{"p":-2.75,"i":4},{"p":-2.85,"i":-15},{"p":-2.95,"i":11},
{"p":-3.05,"i":-7},{"p":-3.15,"i":12},{"p":-3.25,"i":2},{"p":-3.35,"i":-13},{"p":-3.45,"i":10},{"p":-3.55,"i":-4},{"p":-3.65,"i":15},{"p":-3.75,"i":-10},{"p":-3.85,"i":3},{"p":-3.95,"i":-8},
{"p":-4.05,"i":13},{"p":-4.15,"i":-6},{"p":-4.25,"i":-11},{"p":-4.35,"i":8},{"p":-4.45,"i":-3},{"p":-4.55,"i":14},{"p":-4.65,"i":-12},{"p":-4.75,"i":5},{"p":-4.85,"i":9},{"p":-4.95,"i":-14},
{"p":-5.05,"i":-2},{"p":-5.15,"i":10},{"p":-5.25,"i":-8},{"p":-5.35,"i":16},{"p":-5.45,"i":-5},{"p":-5.55,"i":3},{"p":-5.65,"i":-13},{"p":-5.75,"i":11},{"p":-5.85,"i":-7},{"p":-5.95,"i":12},
{"p":-6.05,"i":6},{"p":-6.15,"i":-13},{"p":-6.25,"i":9},{"p":-6.35,"i":1},{"p":-6.45,"i":-10},{"p":-6.55,"i":15},{"p":-6.65,"i":-4},{"p":-6.75,"i":-8},{"p":-6.85,"i":13},{"p":-6.95,"i":-11},
{"p":-7.05,"i":-9},{"p":-7.15,"i":14},{"p":-7.25,"i":-5},{"p":-7.35,"i":10},{"p":-7.45,"i":-12},{"p":-7.55,"i":4},{"p":-7.65,"i":-2},{"p":-7.75,"i":13},{"p":-7.85,"i":-7},{"p":-7.95,"i":16},
{"p":-8.05,"i":5},{"p":-8.15,"i":-8},{"p":-8.25,"i":15},{"p":-8.35,"i":-11},{"p":-8.45,"i":5},{"p":-8.55,"i":10},{"p":-8.65,"i":-6},{"p":-8.75,"i":9},{"p":-8.85,"i":-14},{"p":-8.95,"i":3},
{"p":-9.05,"i":12},{"p":-9.15,"i":-4},{"p":-9.25,"i":-10},{"p":-9.35,"i":13},{"p":-9.45,"i":-7},{"p":-9.55,"i":2},{"p":-9.65,"i":16},{"p":-9.75,"i":-11},{"p":-9.85,"i":6},{"p":-9.95,"i":-3},
{"p":-10.05,"i":-8},{"p":-10.15,"i":15},{"p":-10.25,"i":-2},{"p":-10.35,"i":-18},{"p":-10.45,"i":11},{"p":-10.55,"i":-6},{"p":-10.65,"i":13},{"p":-10.75,"i":-9},{"p":-10.85,"i":4},{"p":-10.95,"i":-12},
{"p":-11.05,"i":10},{"p":-11.15,"i":-3},{"p":-11.25,"i":14},{"p":-11.35,"i":-8},{"p":-11.45,"i":-12},{"p":-11.55,"i":7},{"p":-11.65,"i":-1},{"p":-11.75,"i":15},{"p":-11.85,"i":-10},{"p":-11.95,"i":6},
{"p":-12.05,"i":-6},{"p":-12.15,"i":13},{"p":-12.25,"i":-11},{"p":-12.35,"i":3},{"p":-12.45,"i":9},{"p":-12.55,"i":-14},{"p":-12.65,"i":5},{"p":-12.75,"i":12},{"p":-12.85,"i":-4},{"p":-12.95,"i":-9},
{"p":-13.05,"i":14},{"p":-13.15,"i":-2},{"p":-13.25,"i":-7},{"p":-13.35,"i":11},{"p":-13.45,"i":-13},{"p":-13.55,"i":6},{"p":-13.65,"i":10},{"p":-13.75,"i":-5},{"p":-13.85,"i":-15},{"p":-13.95,"i":8},
{"p":-14.05,"i":-4},{"p":-14.15,"i":12},{"p":-14.25,"i":3},{"p":-14.35,"i":-10},{"p":-14.45,"i":14},{"p":-14.55,"i":-6},{"p":-14.65,"i":-12},{"p":-14.75,"i":9},{"p":-14.85,"i":1},{"p":-14.95,"i":-8},
{"p":-15.05,"i":11},{"p":-15.15,"i":-9},{"p":-15.25,"i":15},{"p":-15.35,"i":-2},{"p":-15.45,"i":-6},{"p":-15.55,"i":13},{"p":-15.65,"i":-11},{"p":-15.75,"i":4},{"p":-15.85,"i":-14},{"p":-15.95,"i":10},
{"p":-16.05,"i":-3},{"p":-16.15,"i":16},{"p":-16.25,"i":-8},{"p":-16.35,"i":5},{"p":-16.45,"i":12},{"p":-16.55,"i":-13},{"p":-16.65,"i":2},{"p":-16.75,"i":-7},{"p":-16.85,"i":14},{"p":-16.95,"i":-10},
{"p":-17.05,"i":8},{"p":-17.15,"i":-5},{"p":-17.25,"i":-12},{"p":-17.35,"i":14},{"p":-17.45,"i":-3},{"p":-17.55,"i":10},{"p":-17.65,"i":-9},{"p":-17.75,"i":16},{"p":-17.85,"i":-6},{"p":-17.95,"i":1},
{"p":-18.05,"i":-11},{"p":-18.15,"i":7},{"p":-18.25,"i":13},{"p":-18.35,"i":-4},{"p":-18.45,"i":-9},{"p":-18.55,"i":15},{"p":-18.65,"i":-2},{"p":-18.75,"i":-12},{"p":-18.85,"i":11},{"p":-18.95,"i":4},
{"p":-19.05,"i":6},{"p":-19.15,"i":-14},{"p":-19.25,"i":2},{"p":-19.35,"i":10},{"p":-19.45,"i":-7},{"p":-19.55,"i":13},{"p":-19.65,"i":-5},{"p":-19.75,"i":9},{"p":-19.85,"i":-11},{"p":-19.95,"i":-1},
{"p":-20.05,"i":12},{"p":-20.15,"i":-3},{"p":-20.25,"i":-10},{"p":-20.35,"i":15},{"p":-20.45,"i":-8},{"p":-20.55,"i":4},{"p":-20.65,"i":11},{"p":-20.75,"i":-13},{"p":-20.85,"i":6},{"p":-20.95,"i":-6},
{"p":-21.05,"i":-7},{"p":-21.15,"i":14},{"p":-21.25,"i":-2},{"p":-21.35,"i":9},{"p":-21.45,"i":-12},{"p":-21.55,"i":5},{"p":-21.65,"i":13},{"p":-21.75,"i":-8},{"p":-21.85,"i":-4},{"p":-21.95,"i":16},
{"p":-22.05,"i":3},{"p":-22.15,"i":-11},{"p":-22.25,"i":15},{"p":-22.35,"i":-6},{"p":-22.45,"i":10},{"p":-22.55,"i":-14},{"p":-22.65,"i":1},{"p":-22.75,"i":12},{"p":-22.85,"i":-9},{"p":-22.95,"i":7},
{"p":-23.05,"i":-10},{"p":-23.15,"i":6},{"p":-23.25,"i":12},{"p":-23.35,"i":-3},{"p":-23.45,"i":-8},{"p":-23.55,"i":14},{"p":-23.65,"i":-12},{"p":-23.75,"i":4},{"p":-23.85,"i":11},{"p":-23.95,"i":-5},
{"p":-24.05,"i":9},{"p":-24.15,"i":-13},{"p":-24.25,"i":2},{"p":-24.35,"i":13},{"p":-24.45,"i":-6},{"p":-24.55,"i":10},{"p":-24.65,"i":-9},{"p":-24.75,"i":15},{"p":-24.85,"i":-3},{"p":-24.95,"i":-11},
{"p":-25.05,"i":-4},{"p":-25.15,"i":12},{"p":-25.25,"i":-8},{"p":-25.35,"i":6},{"p":-25.45,"i":-14},{"p":-25.55,"i":3},{"p":-25.65,"i":16},{"p":-25.75,"i":-7},{"p":-25.85,"i":1},{"p":-25.95,"i":-10},
{"p":-26.05,"i":14},{"p":-26.15,"i":-2},{"p":-26.25,"i":-11},{"p":-26.35,"i":9},{"p":-26.45,"i":-5},{"p":-26.55,"i":13},{"p":-26.65,"i":-12},{"p":-26.75,"i":7},{"p":-26.85,"i":-8},{"p":-26.95,"i":10},
{"p":-27.05,"i":-6},{"p":-27.15,"i":11},{"p":-27.25,"i":4},{"p":-27.35,"i":-13},{"p":-27.45,"i":8},{"p":-27.55,"i":-3},{"p":-27.65,"i":15},{"p":-27.75,"i":-10},{"p":-27.85,"i":2},{"p":-27.95,"i":-9},
{"p":-28.05,"i":10},{"p":-28.15,"i":-7},{"p":-28.25,"i":-14},{"p":-28.35,"i":12},{"p":-28.45,"i":-1},{"p":-28.55,"i":20},{"p":-28.65,"i":-11},{"p":-28.75,"i":5},{"p":-28.85,"i":13},{"p":-28.95,"i":-4},
{"p":-29.05,"i":-8},{"p":-29.15,"i":15},{"p":-29.25,"i":-3},{"p":-29.35,"i":6},{"p":-29.45,"i":-12},{"p":-29.55,"i":9},{"p":-29.65,"i":-15},{"p":-29.75,"i":11},{"p":-29.85,"i":-5},{"p":-29.95,"i":7}
]
},
"encoding": {
"x": {
"field": "p",
"type": "quantitative",
"scale": {"domain": [-30, 50], "reverse": true, "nice": false, "zero": false},
"axis": {
"values": [49,48,47,46,45,44,43,42,41,40,39,38,37,36,35,34,33,32,31,30,29,28,27,26,25,24,23,22,21,20,19,18,17,16,15,14,13,12,11,10,9,8,7,6,5,4,3,2,1,0,-1,-2,-3,-4,-5,-6,-7,-8,-9,-10,-11,-12,-13,-14,-15,-16,-17,-18,-19,-20,-21,-22,-23,-24,-25,-26,-27,-28,-29],
"grid": false,
"title": "ppm",
"titleColor": "#1e1ed2",
"titleFont": "Liberation Sans",
"titleFontSize": 47,
"titleFontWeight": "bold",
"titleAlign": "right",
"titleBaseline": "alphabetic",
"titleX": 3205,
"titleY": 85,
"domainColor": "#6464c8",
"domainWidth": 3,
"tickColor": "#6464c8",
"tickWidth": 2.5,
"tickSize": {"condition": {"test": "datum.value % 5 === 0", "value": 25}, "value": 8},
"labelExpr": "datum.value % 5 === 0 ? '' + datum.value : ''",
"labelColor": "#1e1ed2",
"labelFont": "Liberation Sans",
"labelFontSize": 47,
"labelFontWeight": "bold",
"labelPadding": 20,
"labelFlush": false,
"labelOverlap": false,
"labelBound": false
}
}
},
"layer": [
{
"data": {"name": "spectrum"},
"mark": {"type": "line", "color": "black", "strokeWidth": 3},
"encoding": {
"y": {"field": "i", "type": "quantitative", "scale": {"domain": [-51.4, 1460.7], "nice": false, "zero": false}, "axis": null}
}
},
{
"data": {"name": "peaks"},
"mark": {"type": "rule", "color": "#707070", "strokeWidth": 3},
"encoding": {
"y": {"datum": 1257, "type": "quantitative", "axis": null},
"y2": {"datum": 1314}
}
},
{
"data": {"name": "peaks"},
"mark": {"type": "text", "angle": 270, "align": "left", "baseline": "middle", "font": "Liberation Mono", "fontSize": 48, "color": "#505050", "dy": 5},
"encoding": {
"y": {"datum": 1325, "type": "quantitative", "axis": null},
"text": {"field": "label"}
}
}
]
}
